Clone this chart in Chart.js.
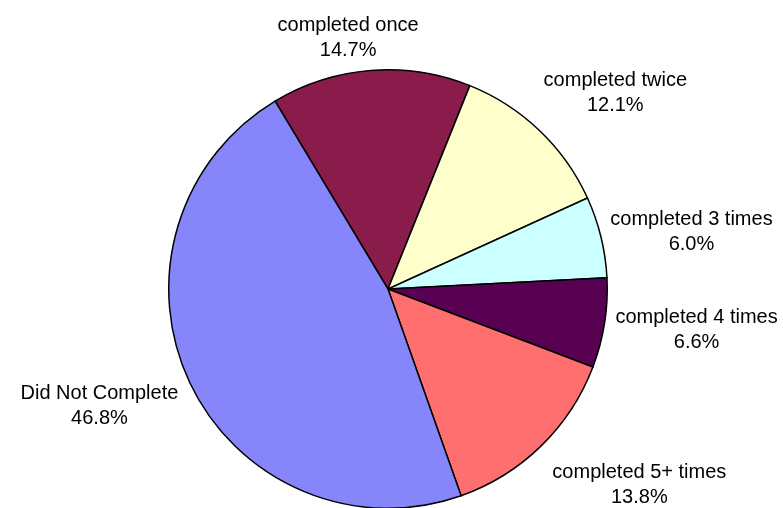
<!DOCTYPE html>
<html>
<head>
<meta charset="utf-8">
<script src="https://cdn.jsdelivr.net/npm/chart.js@4"></script>
<style>
html,body{margin:0;padding:0;background:#fff;overflow:hidden;}
#wrap{width:783px;height:520px;position:relative;}
</style>
</head>
<body>
<div id="wrap"><canvas id="c"></canvas></div>
<script>
const categories = ["completed once","completed twice","completed 3 times","completed 4 times","completed 5+ times","Did Not Complete"];
const values = [14.7, 12.1, 6.0, 6.6, 13.8, 46.8];
const colors = ["#8A1C4C","#FFFFCC","#CCFFFF","#580052","#FF6F6F","#8686FA"];
// small nudges for label placement (px), applied after a radial rule
const labelNudge = [[-16,4],[18,-11],[0,4],[0,1],[29,13],[-8,8]];

const labelPlugin = {
  id: 'outLabels',
  afterDatasetsDraw(chart) {
    const ctx = chart.ctx;
    const meta = chart.getDatasetMeta(0);
    const total = values.reduce((a,b)=>a+b,0);
    ctx.save();
    ctx.font = '20px "Liberation Sans", Arial, sans-serif';
    ctx.fillStyle = '#000';
    ctx.textAlign = 'center';
    ctx.textBaseline = 'middle';
    const lh = 25;
    meta.data.forEach((arc, i) => {
      const p = arc.getProps(['x','y','startAngle','endAngle','outerRadius'], true);
      const mid = (p.startAngle + p.endAngle) / 2;
      const r = p.outerRadius + 12;
      const ax = p.x + Math.cos(mid) * r;
      const ay = p.y + Math.sin(mid) * r;
      const l1 = categories[i];
      const l2 = (values[i] / total * 100).toFixed(1) + '%';
      const w = Math.max(ctx.measureText(l1).width, ctx.measureText(l2).width);
      const h = lh * 2;
      const cx = ax + Math.cos(mid) * w / 2 + labelNudge[i][0];
      const cy = ay + Math.sin(mid) * h / 2 + labelNudge[i][1];
      ctx.fillText(l1, cx, cy - lh / 2);
      ctx.fillText(l2, cx, cy + lh / 2);
    });
    ctx.restore();
  }
};

new Chart(document.getElementById('c'), {
  type: 'pie',
  data: {
    labels: categories,
    datasets: [{
      data: values,
      backgroundColor: colors,
      borderColor: '#000',
      borderWidth: 1.5,
      borderJoinStyle: 'miter'
    }]
  },
  options: {
    responsive: true,
    maintainAspectRatio: false,
    animation: false,
    rotation: -31,
    layout: { padding: { top: 69, bottom: 11, left: 168, right: 175 } },
    plugins: { legend: { display: false }, tooltip: { enabled: false } }
  },
  plugins: [labelPlugin]
});
</script>
</body>
</html>
